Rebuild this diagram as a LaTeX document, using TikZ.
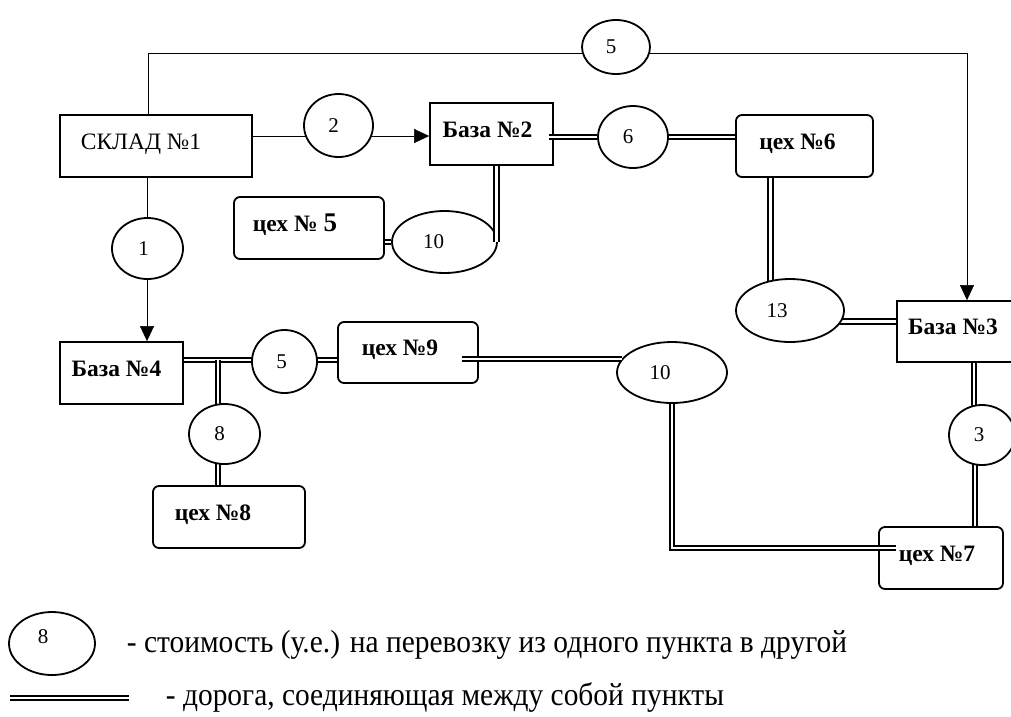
\documentclass[tikz,border=0pt]{standalone}
\usepackage{fontspec}
\setmainfont{Liberation Serif}
\newfontfamily\legendfont{Liberation Serif}[FakeStretch=0.92]
\usetikzlibrary{arrows.meta,shapes.geometric,backgrounds}

\newcommand{\padr}[1]{\hspace*{#1pt}}

\begin{document}
\begin{tikzpicture}[
    x=1pt, y=1pt,
    >={Triangle[length=15pt,width=14pt]},
    line width=1.8pt,
    base/.style={draw, fill=white, minimum width=123pt, minimum height=62pt, inner sep=0pt,
        text height=16pt, text depth=10pt, font=\fontsize{23.5}{25}\selectfont\bfseries},
    shop/.style={base, rounded corners=6pt},
    store/.style={base, font=\fontsize{23.5}{25}\selectfont},
    cost/.style={ellipse, draw, fill=white, inner sep=0pt, minimum width=70pt, minimum height=62pt, font=\fontsize{21}{23}\selectfont},
    road/.style={double, line width=1.9pt, double distance=2.6pt},
    legend/.style={font=\fontsize{32}{34}\legendfont, inner sep=0pt}
]

\path[use as bounding box] (0,0) rectangle (1011,-716);
\clip (0,0) rectangle (1011,-716);

% -------------------------------------------------
% POINTS (warehouse, bases, shops)
% -------------------------------------------------
\node[store, minimum width=192pt] (s1) at (156,-146) {СКЛАД №1\padr{30}};
\node[base] (b2) at (491.5,-134) {База №2\padr{8}};
\node[base, minimum width=122pt, minimum height=61pt] (b3) at (958,-331.5) {База №3\padr{10}};
\node[base] (b4) at (121.5,-373) {База №4\padr{10}};

\node[shop, minimum width=150pt] (c5) at (309,-228) {цех № {\fontsize{27}{28}\selectfont 5}\padr{28}};
\node[shop, minimum width=137pt] (c6) at (804.5,-146) {цех №6\padr{14}};
\node[shop, minimum width=124pt] (c7) at (941,-558) {цех №7\padr{8}};
\node[shop, minimum width=152pt] (c8) at (229,-517) {цех №8\padr{32}};
\node[shop, minimum width=140pt, minimum height=61pt] (c9) at (408,-352.5) {цех №9\padr{16}};

% -------------------------------------------------
% COSTS
% -------------------------------------------------
\node[cost, minimum width=68pt, minimum height=54pt] (e5t) at (616,-47) {5\padr{10}};
\node[cost, minimum width=69pt, minimum height=63pt] (e2) at (338.5,-125.5) {2\padr{10}};
\node[cost, minimum width=71pt, minimum height=61pt] (e1) at (147.5,-248.5) {1\padr{8}};
\node[cost, minimum width=105pt] (e10a) at (444.5,-242) {10\padr{22}};
\node[cost] (e6) at (633,-137) {6\padr{10}};
\node[cost, minimum width=108pt, minimum height=63pt] (e13) at (790,-310.5) {13\padr{26}};
\node[cost, minimum width=110pt, minimum height=61pt] (e10b) at (672,-372.5) {10\padr{24}};
\node[cost, minimum width=66pt, minimum height=60pt] (e3) at (982,-435) {3\padr{6}};
\node[cost, minimum width=65pt, minimum height=63pt] (e5b) at (284.5,-361.5) {5\padr{6}};
\node[cost, minimum width=71pt, minimum height=60pt] (e8) at (224.5,-434) {8\padr{10}};

% -------------------------------------------------
% CONNECTORS BEHIND THE NODES
% -------------------------------------------------
\coordinate (tl) at (148,-53);
\coordinate (tr) at (967,-53);
\coordinate (br) at (218,-360);

\begin{scope}[on background layer]
% single lines with arrows
\draw[->] (s1.north -| tl) -- (tl) -- (tr) -- (tr |- b3.north);
\draw[->] ([yshift=10pt]s1.east) -- ([yshift=10pt]s1.east -| b2.west);
\draw[->] ([xshift=-9pt]s1.south) -- ([xshift=-9pt]s1.south |- b4.north);

% roads
\draw[road] ([yshift=13pt]b4.east) -- ([yshift=13pt]b4.east -| c9.west);
\draw[road] (br) -- (br |- c8.north);
\draw[road] ([xshift=-34pt]c6.south) -- ([xshift=-34pt]c6.south |- e13.center);
\draw[road] ([yshift=-11pt]e13.center) -- ([yshift=-11pt]e13.center -| b3.west);
\draw[road] ([xshift=16pt]b3.south) -- ([xshift=16pt]b3.south |- e3.center);
\draw[road] ([xshift=34pt]c7.north) -- ([xshift=34pt]c7.north |- e3.center);
\end{scope}

% roads drawn over the boxes
\coordinate (c9in) at (462,-359);
\coordinate (c7in) at (896,-548);

\draw[road] ([xshift=-5pt]b2.east |- e6.west) -- (e6.west);
\draw[road] (e6.east) -- (e6.east -| c6.west);
\draw[road] (e10a.west -| c5.east) -- (e10a.west);
\draw[road] ([xshift=5pt]b2.south) -- ([xshift=5pt]b2.south |- e10a.center);
\draw[road] (c9in) -- (c9in -| e10b.165);
\draw[road] (e10b.south) |- (c7in);

% -------------------------------------------------
% LEGEND
% -------------------------------------------------
\node[cost, minimum width=86pt, minimum height=63pt, text depth=14pt] (lege) at (52,-643.5) {8\padr{18}};
\node[legend, anchor=base west] (legt1) at (126,-652) {- стоимость (у.е.) на перевозку из одного пункта в другой};

\coordinate (lrs) at (10,-698);
\coordinate (lre) at (129,-698);
\draw[road, line width=1.5pt] (lrs) -- (lre);
\node[legend, anchor=base west] (legt2) at (165,-705) {- дорога, соединяющая между собой пункты};

\end{tikzpicture}
\end{document}
